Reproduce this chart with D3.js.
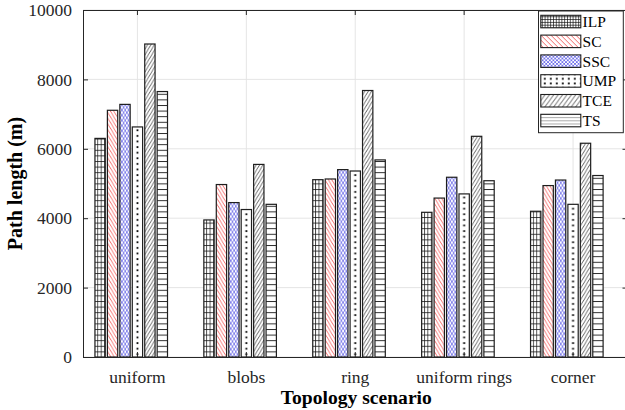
<!DOCTYPE html>
<html>
<head>
<meta charset="utf-8">
<script src="https://cdn.jsdelivr.net/npm/d3@7"></script>
<style>
  html, body { margin: 0; padding: 0; background: #fff; }
  svg { display: block; }
  svg text { font-family: "Liberation Serif", "Times New Roman", Times, serif; }
</style>
</head>
<body>
<svg id="chart" width="625" height="410"></svg>
<script>
const categories = ["uniform", "blobs", "ring", "uniform rings", "corner"];
const seriesNames = ["ILP", "SC", "SSC", "UMP", "TCE", "TS"];
const ILP = [6300, 3950, 5110, 4170, 4200];
const SC  = [7110, 4970, 5130, 4580, 4940];
const SSC = [7280, 4450, 5400, 5180, 5100];
const UMP = [6630, 4250, 5360, 4700, 4400];
const TCE = [9020, 5550, 7680, 6360, 6160];
const TS  = [7650, 4400, 5680, 5080, 5230];
const yTicks = [0, 2000, 4000, 6000, 8000, 10000];
const xTitle = "Topology scenario";
const yTitle = "Path length (m)";

const seriesValues = [ILP, SC, SSC, UMP, TCE, TS];
const serif = '"Liberation Serif", "Times New Roman", Times, serif';

const svg = d3.select("#chart");
const pLeft = 83, pRight = 627.5, pTop = 10, pBottom = 357;
const axisColor = "#262626";

const x0 = d3.scaleBand().domain(categories).range([pLeft, pRight]).paddingInner(0.2).paddingOuter(0.1);
// 7 slots per group: six series plus one empty slot (as in the reference)
const x1 = d3.scaleBand().domain(d3.range(7)).range([0, x0.bandwidth()]).paddingInner(0.17).paddingOuter(0.085);
const y = d3.scaleLinear().domain([0, 10000]).range([pBottom, pTop]);

const defs = svg.append("defs");

function hatchPattern(id, w, h, paths, color, sw, ox, oy) {
  const p = defs.append("pattern").attr("id", id).attr("patternUnits", "userSpaceOnUse")
    .attr("width", w).attr("height", h).attr("x", ox || 0).attr("y", oy || 0);
  p.append("rect").attr("width", w).attr("height", h).attr("fill", "#fff");
  paths.forEach(d => p.append("path").attr("d", d).attr("stroke", color).attr("stroke-width", sw).attr("fill", "none"));
  return p;
}
function back(w, h) { return [`M0,0L${w},${h}`, `M${w},0L${2*w},${h}`, `M${-w},0L0,${h}`]; }
function fwd(w, h) { return [`M0,${h}L${w},0`, `M${-w},${h}L0,0`, `M${w},${h}L${2*w},0`]; }

// bar patterns (pattern space = local coordinates of each category group)
hatchPattern("p-ILP", 3.4, 5.6, ["M0.5,0V5.6", "M0,0.5H3.4"], "#111", 0.75, 0, pBottom);
hatchPattern("p-SC", 3.4, 5.7, back(3.4, 5.7), "#f03a3a", 0.75, 0, pBottom);
hatchPattern("p-SSC", 3.3, 5.2, back(3.3, 5.2).concat(fwd(3.3, 5.2)), "#3a3ae0", 0.6, 0, pBottom);
(function () {
  const st = x0.step();
  const cx = x1(3) + x1.bandwidth() / 2;
  const p = defs.append("pattern").attr("id", "p-UMP").attr("patternUnits", "userSpaceOnUse")
    .attr("width", st).attr("height", 5.6).attr("x", cx - st / 2).attr("y", pBottom);
  p.append("rect").attr("width", st).attr("height", 5.6).attr("fill", "#fff");
  p.append("rect").attr("x", st / 2 - 0.9).attr("y", 2).attr("width", 1.8).attr("height", 1.8).attr("fill", "#000");
})();
hatchPattern("p-TCE", 3.4, 5.7, fwd(3.4, 5.7), "#2a2a2a", 0.75, 0, pBottom);
hatchPattern("p-TS", 10, 5.6, ["M0,0.5H10"], "#111", 0.9, 0, pBottom);

// legend geometry
const legX = 538.5, legY = 11, legW = 84.8, legH = 121.7;
const swX = 540.8, swW = 40, swH = 12.5, rowTop0 = 15.3, rowStep = 19.8;

// legend patterns (origin at swatch)
seriesNames.forEach((s, i) => {
  const ty = rowTop0 + i * rowStep;
  if (s === "ILP") hatchPattern("l-ILP", 2.8, 2.8, ["M0.4,0V2.8", "M0,0.4H2.8"], "#111", 0.75, swX + 1, ty + 1);
  if (s === "SC") hatchPattern("l-SC", 5, 5, back(5, 5), "#f03a3a", 0.8, swX, ty);
  if (s === "SSC") hatchPattern("l-SSC", 3.6, 3.6, back(3.6, 3.6).concat(fwd(3.6, 3.6)), "#3a3ae0", 0.65, swX, ty);
  if (s === "UMP") {
    const p = defs.append("pattern").attr("id", "l-UMP").attr("patternUnits", "userSpaceOnUse")
      .attr("width", 6).attr("height", 4.6).attr("x", swX + 1).attr("y", ty + 1.8);
    p.append("rect").attr("width", 6).attr("height", 4.6).attr("fill", "#fff");
    p.append("rect").attr("x", 2.1).attr("y", 1.4).attr("width", 1.8).attr("height", 1.8).attr("fill", "#000");
  }
  if (s === "TCE") hatchPattern("l-TCE", 4.4, 6, fwd(4.4, 6), "#2a2a2a", 0.8, swX, ty);
  if (s === "TS") hatchPattern("l-TS", 40, 3.1, ["M0,0H40"], "#111", 0.9, swX, ty);
});

// grid
const grid = svg.append("g");
grid.selectAll("line.h").data(yTicks).join("line")
  .attr("x1", pLeft).attr("x2", pRight).attr("y1", d => y(d)).attr("y2", d => y(d))
  .attr("stroke", "#e2e2e2").attr("stroke-width", 0.9);
grid.selectAll("line.v").data(categories).join("line")
  .attr("x1", d => x0(d) + x0.bandwidth() / 2).attr("x2", d => x0(d) + x0.bandwidth() / 2)
  .attr("y1", pTop).attr("y2", pBottom)
  .attr("stroke", "#e2e2e2").attr("stroke-width", 0.9);

// bars
const groups = svg.append("g").selectAll("g").data(categories).join("g")
  .attr("transform", d => `translate(${x0(d)},0)`);
seriesNames.forEach((s, si) => {
  groups.append("rect")
    .attr("x", x1(si))
    .attr("y", (d, ci) => y(seriesValues[si][ci]))
    .attr("width", x1.bandwidth())
    .attr("height", (d, ci) => y(0) - y(seriesValues[si][ci]))
    .attr("fill", `url(#p-${s})`)
    .attr("stroke", "#1e1e1e").attr("stroke-width", 1.2);
});

// axes
const yAxisL = d3.axisLeft(y).tickValues(yTicks).tickSizeInner(-5).tickSizeOuter(0).tickPadding(11).tickFormat(d3.format("d"));
const yAxisR = d3.axisRight(y).tickValues(yTicks).tickSizeInner(-5).tickSizeOuter(0).tickFormat("");
const xAxisB = d3.axisBottom(x0).tickSizeInner(-5).tickSizeOuter(0).tickPadding(14);
const xAxisT = d3.axisTop(x0).tickSizeInner(-5).tickSizeOuter(0).tickFormat("");

function style(g) {
  g.attr("font-family", serif).attr("font-size", 17.5);
  g.selectAll("path.domain").attr("stroke", axisColor).attr("stroke-width", 1);
  g.selectAll(".tick line").attr("stroke", axisColor).attr("stroke-width", 1);
  g.selectAll(".tick text").attr("fill", axisColor).attr("font-family", serif).attr("font-size", 17.5);
}
svg.append("g").attr("transform", `translate(${pLeft},0)`).call(yAxisL).call(style);
svg.append("g").attr("transform", `translate(${pRight},0)`).call(yAxisR).call(style);
svg.append("g").attr("transform", `translate(0,${pBottom})`).call(xAxisB).call(style);
svg.append("g").attr("transform", `translate(0,${pTop})`).call(xAxisT).call(style);

// titles
svg.append("text").attr("x", (pLeft + pRight) / 2 + 1).attr("y", 404)
  .attr("text-anchor", "middle").attr("font-weight", "bold").attr("font-size", 19.6).attr("fill", "#000")
  .attr("font-family", serif).text(xTitle);
svg.append("text").attr("transform", `translate(21.5,${(pTop + pBottom) / 2}) rotate(-90)`)
  .attr("text-anchor", "middle").attr("font-weight", "bold").attr("font-size", 20).attr("fill", "#000")
  .attr("font-family", serif).text(yTitle);

// legend
const leg = svg.append("g");
leg.append("rect").attr("x", legX).attr("y", legY).attr("width", legW).attr("height", legH)
  .attr("fill", "#fff").attr("stroke", axisColor).attr("stroke-width", 1);
seriesNames.forEach((s, i) => {
  const ty = rowTop0 + i * rowStep;
  leg.append("rect").attr("x", swX).attr("y", ty).attr("width", swW).attr("height", swH)
    .attr("fill", `url(#l-${s})`).attr("stroke", "#1e1e1e").attr("stroke-width", 1.1);
  leg.append("text").attr("x", swX + swW + 1.8).attr("y", ty + swH / 2 + 5.4)
    .attr("font-family", serif).attr("font-size", 15.5).attr("fill", "#000").text(s);
});
</script>
</body>
</html>
